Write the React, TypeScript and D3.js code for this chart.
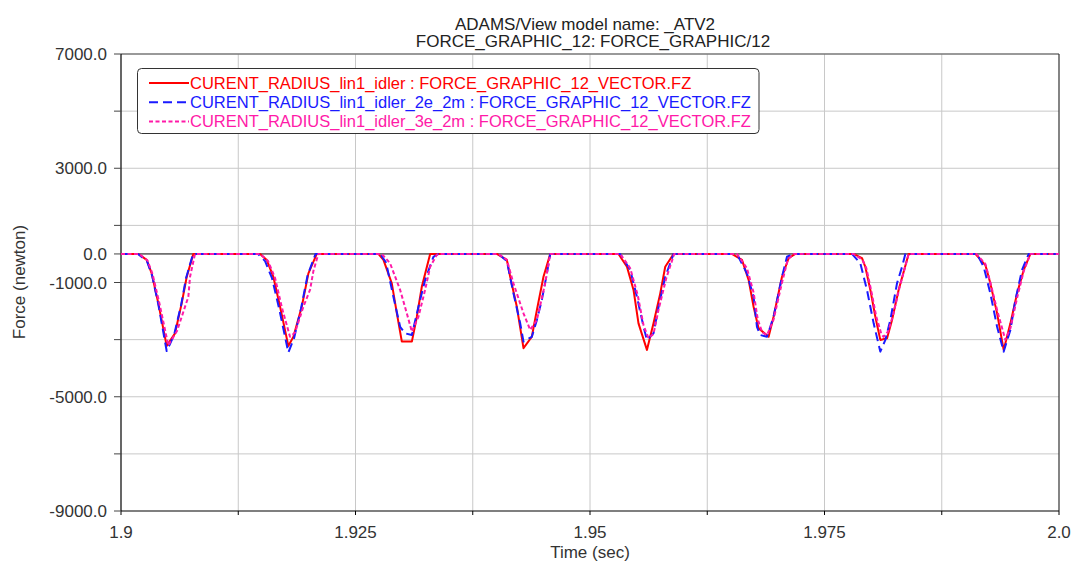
import React from "react";
import * as d3 from "d3";

// time (s), force (N)
const redData: [number, number][] = [
  [1.9, 0],
  [1.90185, 0], [1.90274, -210], [1.90327, -680], [1.90398, -1730], [1.90487, -3220], [1.90576, -2780], [1.90647, -1730], [1.90701, -800], [1.90771, 0],
  [1.91483, 0], [1.91554, -210], [1.91624, -800], [1.91696, -1850], [1.91784, -3220], [1.91838, -2900], [1.91927, -1850], [1.91998, -680], [1.92087, 0],
  [1.92744, 0], [1.92798, -210], [1.92887, -1030], [1.92941, -2080], [1.92994, -3070], [1.93101, -3070], [1.93154, -2200], [1.93207, -1150], [1.93296, 0],
  [1.94007, 0], [1.94114, -210], [1.94149, -800], [1.9422, -1850], [1.94291, -3300], [1.9438, -2900], [1.94434, -1960], [1.94504, -800], [1.94576, 0],
  [1.95304, 0], [1.95394, -450], [1.95464, -1260], [1.95517, -2430], [1.95607, -3360], [1.95677, -2430], [1.95749, -1380], [1.95802, -450], [1.95891, 0],
  [1.96513, 0], [1.9662, -210], [1.96691, -910], [1.96744, -1850], [1.96797, -2600], [1.96904, -2900], [1.96957, -2200], [1.97047, -800], [1.97117, -150], [1.97189, 0],
  [1.9781, 0], [1.979, -150], [1.97935, -450], [1.97989, -1260], [1.98042, -2200], [1.98095, -3010], [1.98167, -2950], [1.9822, -2310], [1.9829, -1260], [1.98397, 0],
  [1.99108, 0], [1.99215, -390], [1.99268, -1030], [1.9934, -2080], [1.9941, -3360], [1.99482, -2430], [1.99553, -1380], [1.99624, -560], [1.99695, 0],
  [2.0, 0],
];

const blueData: [number, number][] = [
  [1.9, 0],
  [1.90181, 0], [1.90277, -250], [1.90331, -750], [1.904, -1800], [1.90487, -3400], [1.90565, -2850], [1.9064, -1800], [1.90693, -850], [1.90768, 0],
  [1.91461, 0], [1.91536, -250], [1.9161, -850], [1.91685, -1900], [1.91784, -3450], [1.91845, -2950], [1.9192, -1900], [1.91989, -750], [1.92074, 0],
  [1.92762, 0], [1.92826, -300], [1.92904, -1500], [1.92976, -2550], [1.93029, -2780], [1.93101, -2840], [1.93171, -1850], [1.93242, -910], [1.93331, -100], [1.93384, 0],
  [1.94024, 0], [1.94114, -250], [1.94184, -1380], [1.94256, -2430], [1.94291, -3070], [1.9438, -2900], [1.94434, -2310], [1.94487, -1600], [1.9454, -700], [1.94576, 0],
  [1.95322, 0], [1.95429, -560], [1.955, -1500], [1.95571, -2550], [1.95607, -3010], [1.95677, -2780], [1.95731, -1850], [1.95802, -800], [1.95891, 0],
  [1.96567, 0], [1.96673, -680], [1.96744, -1500], [1.9678, -2550], [1.96815, -2840], [1.96887, -2900], [1.96957, -2200], [1.97047, -800], [1.971, -100], [1.97171, 0],
  [1.97793, 0], [1.97882, -330], [1.97953, -1260], [1.98024, -2430], [1.98095, -3420], [1.98149, -3010], [1.98202, -2310], [1.98273, -1030], [1.98327, -450], [1.98362, 0],
  [1.99127, 0], [1.99197, -450], [1.99268, -1380], [1.9934, -2550], [1.9941, -3420], [1.99482, -2660], [1.99535, -1610], [1.99606, -560], [1.99677, 0],
  [2.0, 0],
];

const pinkData: [number, number][] = [
  [1.9, 0],
  [1.90192, 0], [1.90283, -230], [1.90336, -700], [1.90411, -1750], [1.90504, -3200], [1.90597, -2700], [1.90718, -1500], [1.90736, -800], [1.90789, 0],
  [1.91483, 0], [1.91568, -250], [1.91643, -850], [1.91717, -1900], [1.91802, -2900], [1.91856, -2750], [1.91944, -1850], [1.92016, -1250], [1.92051, -600], [1.92104, 0],
  [1.92781, 0], [1.92869, -330], [1.92976, -1260], [1.93047, -2080], [1.93101, -2720], [1.93171, -2200], [1.93242, -1260], [1.93296, -450], [1.93367, -30], [1.93384, 0],
  [1.94024, 0], [1.94114, -210], [1.94184, -1030], [1.94291, -2080], [1.94362, -2660], [1.94434, -2310], [1.94522, -1030], [1.94576, 0],
  [1.95322, 0], [1.95429, -500], [1.95509, -1450], [1.95571, -2500], [1.95624, -2950], [1.95677, -2800], [1.95731, -1950], [1.95813, -850], [1.95898, 0],
  [1.96567, 0], [1.96673, -500], [1.96744, -1350], [1.96789, -2300], [1.96837, -2750], [1.96887, -2840], [1.96957, -2300], [1.97047, -1000], [1.97109, -200], [1.97171, 0],
  [1.9781, 0], [1.97903, -200], [1.97946, -500], [1.97999, -1300], [1.98052, -2200], [1.98106, -2800], [1.9813, -2900], [1.98181, -2700], [1.98234, -2100], [1.98298, -1200], [1.98397, 0],
  [1.99119, 0], [1.99215, -350], [1.99268, -1000], [1.99343, -2000], [1.99428, -3010], [1.99482, -2600], [1.99556, -1500], [1.99624, -600], [1.99695, 0],
  [2.0, 0],
];

const xTicks = [1.9, 1.9125, 1.925, 1.9375, 1.95, 1.9625, 1.975, 1.9875, 2.0];
const xLabels: { [k: string]: string } = { "1.9": "1.9", "1.925": "1.925", "1.95": "1.95", "1.975": "1.975", "2": "2.0" };
const yGrid = [-9000, -7000, -5000, -3000, -1000, 1000, 3000, 5000, 7000];
const yLabels = [7000, 3000, 0, -1000, -5000, -9000];

const series = [
  { name: "CURENT_RADIUS_lin1_idler : FORCE_GRAPHIC_12_VECTOR.FZ", data: redData, color: "#ff0000", dash: "" },
  { name: "CURENT_RADIUS_lin1_idler_2e_2m : FORCE_GRAPHIC_12_VECTOR.FZ", data: blueData, color: "#1a1aff", dash: "9,5" },
  { name: "CURENT_RADIUS_lin1_idler_3e_2m : FORCE_GRAPHIC_12_VECTOR.FZ", data: pinkData, color: "#ff1aa8", dash: "4,2.5" },
];

const W = 1071;
const H = 563;
const left = 121, right = 1059, top = 54, bottom = 511;
const font = "'Liberation Sans', Arial, sans-serif";
const fs = 17;

export default function App() {
  const x = d3.scaleLinear().domain([1.9, 2.0]).range([left, right]);
  const y = d3.scaleLinear().domain([-9000, 7000]).range([bottom, top]);

  const line = d3.line<[number, number]>()
    .x(d => x(d[0]))
    .y(d => y(d[1]));

  return (
    <svg width={W} height={H} style={{ position: "absolute", left: 0, top: 0, background: "#fff" }}
      fontFamily={font}>
      <text x={585} y={30} textAnchor="middle" fontSize={fs} fill="#222">ADAMS/View model name: _ATV2</text>
      <text x={593} y={47} textAnchor="middle" fontSize={fs} fill="#222">FORCE_GRAPHIC_12: FORCE_GRAPHIC/12</text>

      {/* grid */}
      {xTicks.slice(1, -1).map(t => (
        <line key={"gx" + t} x1={x(t)} x2={x(t)} y1={top} y2={bottom} stroke="#c8c8c8" strokeWidth={1} />
      ))}
      {yGrid.slice(1, -1).map(v => (
        <line key={"gy" + v} x1={left} x2={right} y1={y(v)} y2={y(v)} stroke="#c8c8c8" strokeWidth={1} />
      ))}
      <line x1={left} x2={right} y1={y(0)} y2={y(0)} stroke="#000" strokeWidth={1} />

      {/* frame */}
      <line x1={left} x2={right} y1={top} y2={top} stroke="#777" strokeWidth={1.5} />
      <line x1={right} x2={right} y1={top} y2={bottom} stroke="#333" strokeWidth={1.2} />
      <line x1={left} x2={left} y1={top} y2={bottom} stroke="#000" strokeWidth={1.2} />
      <line x1={left} x2={right} y1={bottom} y2={bottom} stroke="#000" strokeWidth={1.2} />

      {/* ticks */}
      {xTicks.map(t => (
        <line key={"tx" + t} x1={x(t)} x2={x(t)} y1={bottom} y2={bottom + 4} stroke="#000" />
      ))}
      {xTicks.filter(t => xLabels[String(t)]).map(t => (
        <text key={"lx" + t} x={x(t)} y={538} textAnchor="middle" fontSize={fs} fill="#333">{xLabels[String(t)]}</text>
      ))}
      {[...yGrid, 0].map(v => (
        <line key={"ty" + v} x1={left - 7} x2={left} y1={y(v)} y2={y(v)} stroke="#444" />
      ))}
      {yLabels.map(v => (
        <text key={"ly" + v} x={107} y={y(v) + 6} textAnchor="end" fontSize={fs} fill="#333">{v.toFixed(1)}</text>
      ))}

      <text x={590} y={558} textAnchor="middle" fontSize={fs} fill="#333">Time (sec)</text>
      <text transform={`translate(25,${282}) rotate(-90)`} textAnchor="middle" fontSize={fs} fill="#333">Force (newton)</text>

      {/* data */}
      {series.map(s => (
        <path key={s.name} d={line(s.data) || ""} fill="none" stroke={s.color} strokeWidth={2}
          strokeDasharray={s.dash || undefined} strokeLinejoin="round" />
      ))}

      {/* legend */}
      <rect x={137.5} y={68.5} width={621.5} height={65} rx={4} fill="#fff" stroke="#333" strokeWidth={1} />
      {series.map((s, i) => (
        <g key={"lg" + i}>
          <line x1={149} x2={189} y1={83 + i * 19.2} y2={83 + i * 19.2} stroke={s.color} strokeWidth={2}
            strokeDasharray={s.dash || undefined} />
          <text x={190} y={89 + i * 19.2} fontSize={16.5} fill={s.color}>{s.name}</text>
        </g>
      ))}
    </svg>
  );
}
